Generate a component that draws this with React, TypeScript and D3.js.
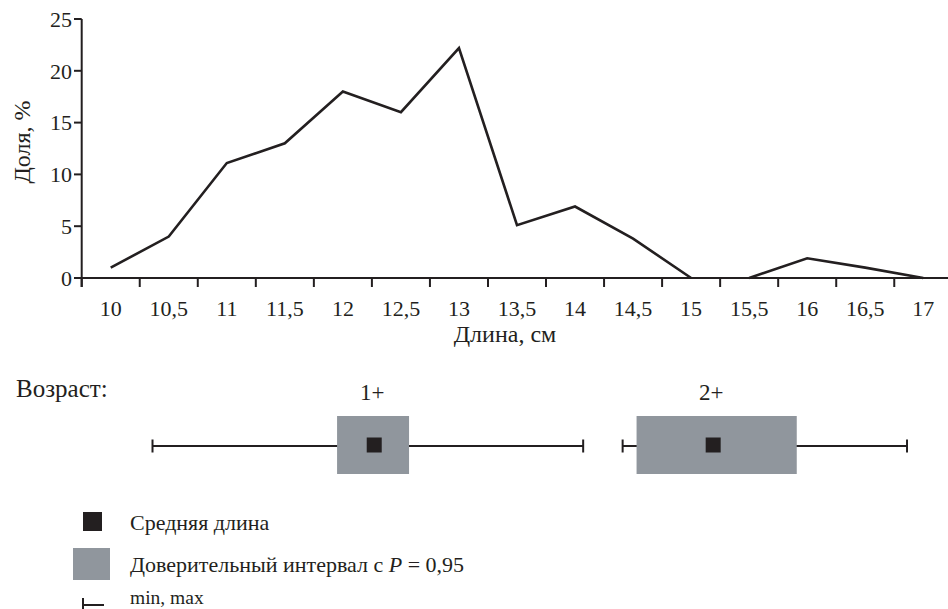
import React from "react";
import * as d3 from "d3";

// length classes, cm
const lengths = ["10", "10,5", "11", "11,5", "12", "12,5", "13", "13,5", "14", "14,5", "15", "15,5", "16", "16,5", "17"];
// share of fish, %
const shares = [1, 4, 11.1, 13, 18, 16, 22.2, 5.1, 6.9, 3.8, 0, 0, 1.9, 1, 0];
// the polyline is broken between 15 and 15,5
const lineSegments = [["10", "15"], ["15,5", "17"]];
const yTicks = [0, 5, 10, 15, 20, 25];

// age groups
const ages = ["1+", "2+"];
const meanLen = [12.27, 15.19];
const ciLow = [11.95, 14.53];
const ciHigh = [12.57, 15.91];
const minLen = [10.36, 14.41];
const maxLen = [14.07, 16.86];

const W = 948;
const H = 609;
const INK = "#231f20";
const GREY = "#90969d";
const serif = { fontFamily: '"Liberation Serif"' };

const App: React.FC = () => {
    const x = d3.scaleBand<string>().domain(lengths).range([81.7, 952.3]).padding(0);
    const y = d3.scaleLinear().domain([0, 25]).range([278, 19]);
    const cx = (c: string) => (x(c) as number) + x.bandwidth() / 2;
    const len = d3.scaleLinear().domain([10, 17]).range([cx("10"), cx("17")]);

    const line = d3
        .line<[string, number]>()
        .x((d) => cx(d[0]))
        .y((d) => y(d[1]));

    const pairs: [string, number][] = lengths.map((c, i) => [c, shares[i]]);
    const segPaths = lineSegments.map(([a, b]) => {
        const i0 = lengths.indexOf(a);
        const i1 = lengths.indexOf(b);
        return line(pairs.slice(i0, i1 + 1)) as string;
    });

    const boxTop = 416;
    const boxBot = 474;
    const midY = (boxTop + boxBot) / 2;
    const whiskY = 446;

    return (
        <svg width={W} height={H} style={{ position: "absolute", left: 0, top: 0, background: "#fff" }} fill={INK}>
            {/* axes */}
            <line x1={81.7} x2={81.7} y1={y(25)} y2={287} stroke={INK} strokeWidth={2} />
            <line x1={81.7} x2={W} y1={y(0)} y2={y(0)} stroke={INK} strokeWidth={2} />
            {yTicks.map((t) => (
                <g key={t}>
                    <line x1={74} x2={81.7} y1={y(t)} y2={y(t)} stroke={INK} strokeWidth={2} />
                    <text x={72} y={y(t)} dy="0.35em" textAnchor="end" fontSize={22} style={serif}>
                        {t}
                    </text>
                </g>
            ))}
            {lengths.map((c) => (
                <g key={c}>
                    <line x1={x(c)} x2={x(c)} y1={y(0)} y2={287} stroke={INK} strokeWidth={2} />
                    <text x={cx(c)} y={316} textAnchor="middle" fontSize={22} style={serif}>
                        {c}
                    </text>
                </g>
            ))}
            <text transform={`translate(30,142) rotate(-90)`} textAnchor="middle" fontSize={24} style={serif}>
                Доля, %
            </text>
            <text x={505} y={342} textAnchor="middle" fontSize={24} style={serif}>
                Длина, см
            </text>

            {/* distribution line */}
            {segPaths.map((d, i) => (
                <path key={i} d={d} fill="none" stroke={INK} strokeWidth={2.6} strokeLinejoin="miter" />
            ))}

            {/* age groups */}
            <text x={16} y={397} fontSize={25} style={serif}>
                Возраст:
            </text>
            {ages.map((a, i) => (
                <g key={a}>
                    <line x1={len(minLen[i])} x2={len(maxLen[i])} y1={whiskY} y2={whiskY} stroke={INK} strokeWidth={2} />
                    <line x1={len(minLen[i])} x2={len(minLen[i])} y1={whiskY - 6.5} y2={whiskY + 6.5} stroke={INK} strokeWidth={2} />
                    <line x1={len(maxLen[i])} x2={len(maxLen[i])} y1={whiskY - 6.5} y2={whiskY + 6.5} stroke={INK} strokeWidth={2} />
                    <rect x={len(ciLow[i])} y={boxTop} width={len(ciHigh[i]) - len(ciLow[i])} height={boxBot - boxTop} fill={GREY} />
                    <rect x={len(meanLen[i]) - 7.5} y={midY - 7.5} width={15} height={15} fill={INK} />
                    <text x={len(meanLen[i]) - 2} y={400} textAnchor="middle" fontSize={23} style={serif}>
                        {a}
                    </text>
                </g>
            ))}

            {/* legend */}
            <rect x={83} y={512} width={19} height={19} fill={INK} />
            <text x={130} y={530} fontSize={22} style={serif}>
                Средняя длина
            </text>
            <rect x={73} y={548} width={37} height={32} fill={GREY} />
            <text x={130} y={572} fontSize={22} style={serif}>
                Доверительный интервал с <tspan fontStyle="italic">P</tspan> = 0,95
            </text>
            <line x1={83} x2={83} y1={598} y2={609} stroke={INK} strokeWidth={2} />
            <line x1={83} x2={104} y1={605} y2={605} stroke={INK} strokeWidth={2} />
            <text x={130} y={604} fontSize={19.5} style={serif}>
                min, max
            </text>
        </svg>
    );
};

export default App;
